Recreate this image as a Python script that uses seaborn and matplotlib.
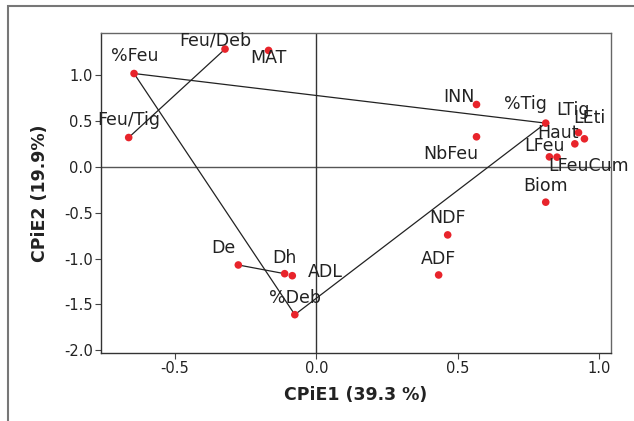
import matplotlib
matplotlib.use("Agg")
import matplotlib.pyplot as plt
import seaborn as sns
import pandas as pd
from matplotlib.patches import Rectangle

sns.set_theme(style="white")
plt.rcParams['font.family'] = ['DejaVu Sans']

# Variable loadings on the first two principal components
labels = ["%Feu", "Feu/Deb", "MAT", "Feu/Tig", "INN", "NbFeu", "%Tig", "LTig",
          "LEti", "Haut", "LFeu", "LFeuCum", "Biom", "NDF", "ADF", "De", "Dh",
          "ADL", "%Deb"]
cpie1 = [-0.645, -0.323, -0.169, -0.664, 0.567, 0.567, 0.812, 0.928,
         0.949, 0.915, 0.825, 0.852, 0.812, 0.465, 0.433, -0.276, -0.112,
         -0.085, -0.076]
cpie2 = [1.018, 1.285, 1.270, 0.320, 0.680, 0.328, 0.477, 0.374,
         0.306, 0.251, 0.109, 0.106, -0.385, -0.742, -1.179, -1.070, -1.165,
         -1.187, -1.612]

# connecting segments (pairs of labels)
segments = [("%Feu", "%Tig"), ("%Feu", "%Deb"), ("%Deb", "%Tig"),
            ("Feu/Tig", "Feu/Deb"), ("De", "Dh")]

# label offsets in pixels (dx right, dy up)
offsets = {"%Feu": (1, 18), "Feu/Deb": (-10, 9), "MAT": (0, -8),
           "Feu/Tig": (0, 18), "INN": (-18, 8), "NbFeu": (-26, -17),
           "%Tig": (-20, 19), "LTig": (-6, 23), "LEti": (5, 21),
           "Haut": (-17, 11), "LFeu": (-5, 11), "LFeuCum": (32, -9),
           "Biom": (0, 16), "NDF": (0, 17), "ADF": (0, 16), "De": (-15, 17),
           "Dh": (0, 16), "ADL": (33, 4), "%Deb": (0, 17)}

df = pd.DataFrame({"label": labels, "CPiE1": cpie1, "CPiE2": cpie2})
pos = {r.label: (r.CPiE1, r.CPiE2) for r in df.itertuples()}

fig = plt.figure(figsize=(6.34, 4.21), dpi=100)
ax = fig.add_axes([101/634, 1-353/421, (611-101)/634, (353-33)/421])

# outer frame
fig.patches.append(Rectangle((8/634, -0.1), 1.2, (418-3)/421 + 0.1,
                             transform=fig.transFigure, fill=False,
                             edgecolor="#777777", linewidth=1.5, zorder=0))

ax.axhline(0, color="#555555", lw=1.0, zorder=1)
ax.axvline(0, color="#333333", lw=1.0, zorder=1)

for a, b in segments:
    sub = df.set_index("label").loc[[a, b]]
    sns.lineplot(x=sub["CPiE1"].values, y=sub["CPiE2"].values, ax=ax,
                 color="#222222", lw=0.9, sort=False, zorder=2)

sns.scatterplot(data=df, x="CPiE1", y="CPiE2", ax=ax, color="#e8242b",
                s=30, edgecolor="none", zorder=3)

for lab in labels:
    dx, dy = offsets[lab]
    ax.annotate(lab, pos[lab], xytext=(dx * 0.72, dy * 0.72),
                textcoords="offset points", ha="center", va="center",
                fontsize=12.5, color="#222222", zorder=4)

ax.set_xlim(-0.762, 1.043)
ax.set_ylim(-2.03, 1.46)
ax.set_xticks([-0.5, 0.0, 0.5, 1.0])
ax.set_yticks([-2.0, -1.5, -1.0, -0.5, 0.0, 0.5, 1.0])
ax.set_xticklabels(["-0.5", "0.0", "0.5", "1.0"])
ax.set_yticklabels(["-2.0", "-1.5", "-1.0", "-0.5", "0.0", "0.5", "1.0"])
ax.tick_params(axis="both", which="both", direction="out", length=4,
               width=0.8, color="#444444", labelsize=10.5, pad=2,
               labelcolor="#222222", bottom=True, left=True)
for s in ax.spines.values():
    s.set_color("#666666")
    s.set_linewidth(1.0)
ax.spines["left"].set_color("#333333")
ax.spines["bottom"].set_color("#333333")

ax.set_xlabel("CPiE1 (39.3 %)", fontsize=12.5, fontweight="bold", labelpad=7,
              color="#222222")
ax.set_ylabel("CPiE2 (19.9%)", fontsize=12.5, fontweight="bold", labelpad=11,
              color="#222222")

fig.savefig("out.png", dpi=100)
